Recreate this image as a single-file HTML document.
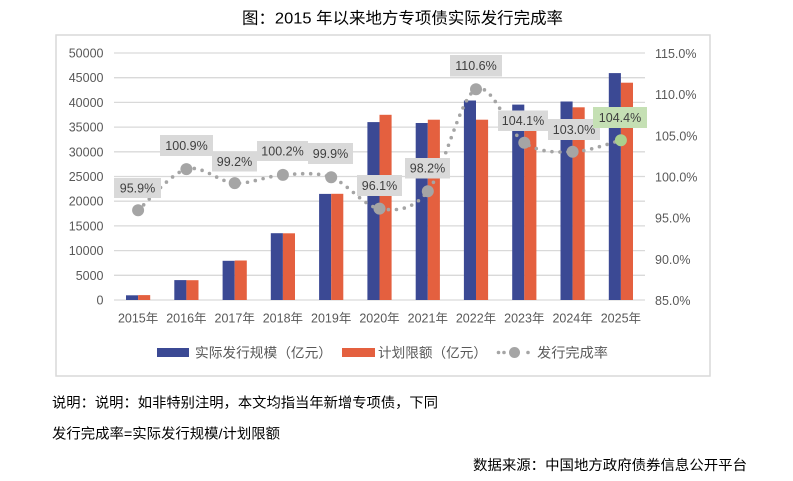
<!DOCTYPE html>
<html>
<head>
<meta charset="utf-8">
<style>
  html,body{margin:0;padding:0;background:#fff;}
  svg{display:block;}
  .cn{font-family:"Liberation Sans","Noto Sans CJK SC",sans-serif;}
</style>
</head>
<body>
<svg width="793" height="481" viewBox="0 0 793 481" xmlns="http://www.w3.org/2000/svg" class="cn">
  <!-- title -->
  <text x="242" y="23.5" font-size="16" fill="#000" textLength="321" lengthAdjust="spacingAndGlyphs">图：2015 年以来地方专项债实际发行完成率</text>

  <!-- chart border -->
  <rect x="56" y="35" width="654" height="341" fill="#fff" stroke="#d9d9d9" stroke-width="1.5"/>

  <!-- gridlines -->
  <g stroke="#d9d9d9" stroke-width="1.3">
    <line x1="114" x2="645" y1="53" y2="53"/>
    <line x1="114" x2="645" y1="77.7" y2="77.7"/>
    <line x1="114" x2="645" y1="102.4" y2="102.4"/>
    <line x1="114" x2="645" y1="127.1" y2="127.1"/>
    <line x1="114" x2="645" y1="151.8" y2="151.8"/>
    <line x1="114" x2="645" y1="176.5" y2="176.5"/>
    <line x1="114" x2="645" y1="201.2" y2="201.2"/>
    <line x1="114" x2="645" y1="225.9" y2="225.9"/>
    <line x1="114" x2="645" y1="250.6" y2="250.6"/>
    <line x1="114" x2="645" y1="275.3" y2="275.3"/>
    <line x1="114" x2="645" y1="300" y2="300"/>
  </g>

  <!-- left axis labels -->
  <g font-size="12.5" fill="#595959" text-anchor="end" font-family="Liberation Sans, sans-serif">
    <text x="103.5" y="57.5">50000</text>
    <text x="103.5" y="82.2">45000</text>
    <text x="103.5" y="106.9">40000</text>
    <text x="103.5" y="131.6">35000</text>
    <text x="103.5" y="156.3">30000</text>
    <text x="103.5" y="181">25000</text>
    <text x="103.5" y="205.7">20000</text>
    <text x="103.5" y="230.4">15000</text>
    <text x="103.5" y="255.1">10000</text>
    <text x="103.5" y="279.8">5000</text>
    <text x="103.5" y="304.5">0</text>
  </g>

  <!-- right axis labels -->
  <g font-size="12.5" fill="#595959" font-family="Liberation Sans, sans-serif">
    <text x="655" y="58">115.0%</text>
    <text x="655" y="99.2">110.0%</text>
    <text x="655" y="140.3">105.0%</text>
    <text x="655" y="181.5">100.0%</text>
    <text x="655" y="222.7">95.0%</text>
    <text x="655" y="263.8">90.0%</text>
    <text x="655" y="305">85.0%</text>
  </g>

  <!-- bars -->
  <g fill="#3b4994">
    <rect x="126.0" y="295.3" width="12.1" height="4.7"/>
    <rect x="174.3" y="280.1" width="12.1" height="19.9"/>
    <rect x="222.6" y="260.8" width="12.1" height="39.2"/>
    <rect x="270.8" y="233.2" width="12.1" height="66.8"/>
    <rect x="319.1" y="193.9" width="12.1" height="106.1"/>
    <rect x="367.4" y="122.1" width="12.1" height="177.9"/>
    <rect x="415.7" y="123.0" width="12.1" height="177.0"/>
    <rect x="463.9" y="100.5" width="12.1" height="199.5"/>
    <rect x="512.2" y="104.6" width="12.1" height="195.4"/>
    <rect x="560.5" y="101.5" width="12.1" height="198.5"/>
    <rect x="608.8" y="73.1" width="12.1" height="226.9"/>
  </g>
  <g fill="#e4603f">
    <rect x="138.1" y="295.1" width="12.1" height="4.9"/>
    <rect x="186.4" y="280.2" width="12.1" height="19.8"/>
    <rect x="234.7" y="260.5" width="12.1" height="39.5"/>
    <rect x="282.9" y="233.3" width="12.1" height="66.7"/>
    <rect x="331.2" y="193.8" width="12.1" height="106.2"/>
    <rect x="379.5" y="114.8" width="12.1" height="185.2"/>
    <rect x="427.8" y="119.7" width="12.1" height="180.3"/>
    <rect x="476.0" y="119.7" width="12.1" height="180.3"/>
    <rect x="524.3" y="112.3" width="12.1" height="187.7"/>
    <rect x="572.6" y="107.3" width="12.1" height="192.7"/>
    <rect x="620.9" y="82.7" width="12.1" height="217.3"/>
  </g>

  <!-- x axis labels -->
  <g font-size="12.5" fill="#595959" text-anchor="middle">
    <text x="138.1" y="322.5">2015年</text>
    <text x="186.4" y="322.5">2016年</text>
    <text x="234.7" y="322.5">2017年</text>
    <text x="282.9" y="322.5">2018年</text>
    <text x="331.2" y="322.5">2019年</text>
    <text x="379.5" y="322.5">2020年</text>
    <text x="427.8" y="322.5">2021年</text>
    <text x="476.0" y="322.5">2022年</text>
    <text x="524.3" y="322.5">2023年</text>
    <text x="572.6" y="322.5">2024年</text>
    <text x="620.9" y="322.5">2025年</text>
  </g>

  <!-- rate line (smoothed, dotted) -->
  <path d="M138.1,210.3 C146.15,203.43 170.3,173.63 186.4,169.1 C202.5,164.57 218.62,182.13 234.7,183.1 C250.78,184.07 266.82,175.87 282.9,174.9 C298.98,173.93 315.1,171.68 331.2,177.3 C347.3,182.92 363.4,206.27 379.5,208.6 C395.6,210.93 411.72,211.2 427.8,191.3 C443.88,171.4 459.92,97.3 476.0,89.2 C492.08,81.1 508.2,132.27 524.3,142.7 C540.4,153.13 556.5,152.2 572.6,151.8 C588.7,151.4 612.85,142.22 620.9,140.3"
        fill="none" stroke="#a5a5a5" stroke-width="3.6" stroke-linecap="round" stroke-dasharray="0 8"/>

  <!-- markers -->
  <g fill="#a5a5a5">
    <circle cx="138.1" cy="210.3" r="6"/>
    <circle cx="186.4" cy="169.1" r="6"/>
    <circle cx="234.7" cy="183.1" r="6"/>
    <circle cx="282.9" cy="174.9" r="6"/>
    <circle cx="331.2" cy="177.3" r="6"/>
    <circle cx="379.5" cy="208.6" r="6"/>
    <circle cx="427.8" cy="191.3" r="6"/>
    <circle cx="476.0" cy="89.2" r="6"/>
    <circle cx="524.3" cy="142.7" r="6"/>
    <circle cx="572.6" cy="151.8" r="6"/>
  </g>
  <circle cx="620.9" cy="140.3" r="6" fill="#a9d08e"/>

  <!-- data labels -->
  <g fill="#d9d9d9">
    <rect x="114" y="178" width="47" height="20"/>
    <rect x="160" y="135" width="53" height="21"/>
    <rect x="212" y="151.5" width="45" height="20"/>
    <rect x="257" y="141" width="51" height="20"/>
    <rect x="308" y="143" width="45" height="21"/>
    <rect x="357" y="175" width="45" height="21"/>
    <rect x="405" y="158" width="45" height="20.5"/>
    <rect x="450" y="55" width="52" height="21.5"/>
    <rect x="498" y="110.5" width="50" height="20.5"/>
    <rect x="548" y="119" width="52" height="21"/>
  </g>
  <rect x="593" y="107" width="54" height="21" fill="#c5e0b4"/>
  <g font-size="12.5" fill="#404040" text-anchor="middle" font-family="Liberation Sans, sans-serif">
    <text x="137.5" y="192.5">95.9%</text>
    <text x="186.5" y="150">100.9%</text>
    <text x="234.5" y="166">99.2%</text>
    <text x="282.5" y="155.5">100.2%</text>
    <text x="330.5" y="158">99.9%</text>
    <text x="379.5" y="190">96.1%</text>
    <text x="427.5" y="172.5">98.2%</text>
    <text x="476" y="70">110.6%</text>
    <text x="523" y="125">104.1%</text>
    <text x="574" y="134">103.0%</text>
    <text x="620" y="122">104.4%</text>
  </g>

  <!-- legend -->
  <rect x="157" y="348" width="32" height="9" fill="#3b4994"/>
  <text x="195" y="357.5" font-size="13.5" fill="#595959" textLength="137" lengthAdjust="spacingAndGlyphs">实际发行规模（亿元）</text>
  <rect x="342" y="348" width="33" height="9" fill="#e4603f"/>
  <text x="378" y="357.5" font-size="13.5" fill="#595959" textLength="109" lengthAdjust="spacingAndGlyphs">计划限额（亿元）</text>
  <g fill="#a5a5a5">
    <circle cx="498.5" cy="352.5" r="1.8"/>
    <circle cx="504" cy="352.5" r="1.8"/>
    <circle cx="514.5" cy="352.5" r="5.5"/>
    <circle cx="528" cy="352.5" r="1.8"/>
  </g>
  <text x="537" y="357.5" font-size="13.5" fill="#595959" textLength="71" lengthAdjust="spacingAndGlyphs">发行完成率</text>

  <!-- notes -->
  <text x="52" y="407.5" font-size="14" fill="#000" textLength="386" lengthAdjust="spacingAndGlyphs">说明：说明：如非特别注明，本文均指当年新增专项债，下同</text>
  <text x="52" y="438.5" font-size="14" fill="#000" textLength="228" lengthAdjust="spacingAndGlyphs">发行完成率=实际发行规模/计划限额</text>
  <text x="473" y="470" font-size="14" fill="#000" textLength="274" lengthAdjust="spacingAndGlyphs">数据来源：中国地方政府债券信息公开平台</text>
</svg>
</body>
</html>
